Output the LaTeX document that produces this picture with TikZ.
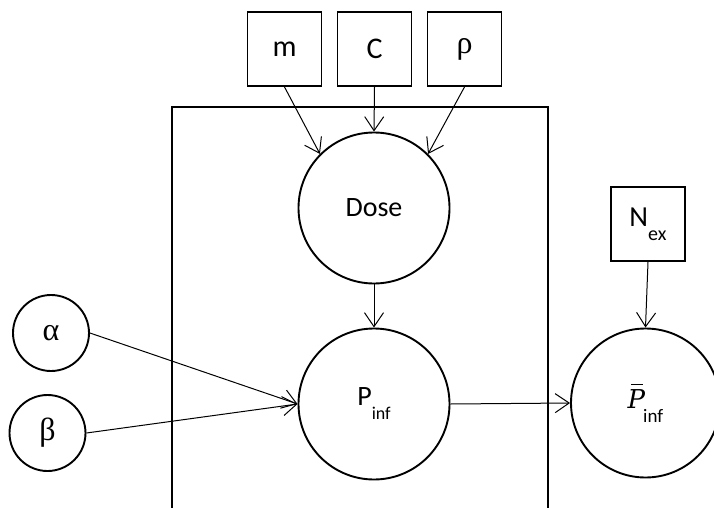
\documentclass[tikz,border=0pt]{standalone}
\usepackage{fontspec}
\setmainfont{Carlito}
\newfontfamily\grk{Liberation Serif}
\newfontfamily\pfont{DejaVu Serif}
\usetikzlibrary{arrows.meta}
\tikzset{
  box/.style={draw,line width=1.9pt,minimum width=74pt,minimum height=74pt,inner sep=0pt,font=\fontsize{30}{32}\selectfont},
  var/.style={draw,circle,line width=1.9pt,inner sep=0pt,font=\fontsize{28}{30}\selectfont},
  greek/.style={font=\grk\fontsize{32}{34}\selectfont},
  conn/.style={line width=1pt,-{Straight Barb[length=14pt,width=19pt,line width=1pt]}},
}
\newcommand{\sbs}[2]{\fontsize{#2}{#2}\selectfont\raisebox{-14pt}{#1}}
\newcommand{\pbarsym}{{\pfont\itshape\fontsize{26}{28}\selectfont P}\llap{\raisebox{23pt}{\rule{12pt}{1.3pt}}\hspace{2pt}}}
\begin{document}
\begin{tikzpicture}[x=1pt,y=-1pt]
\useasboundingbox (0,0) rectangle (714,508);
\begin{scope}
\clip (0,0) rectangle (714,508);
\draw[line width=1.9pt] (172,107) rectangle (548,530);
\node[var,minimum size=149pt] (pbar) at (645.5,403) {\pbarsym\hspace{-2pt}\sbs{inf}{19}};
\end{scope}
\node[box] (m) at (284.5,49) {m};
\node[box] (c) at (374.5,49) {C};
\node[box,greek] (rho) at (464.5,49) {ρ};
\node[box,font=\fontsize{29}{30}\selectfont] (nex) at (648,224) {N\sbs{ex}{20}};
\node[var,minimum size=151pt] (dose) at (374,208) {Dose};
\node[var,minimum size=151pt] (pinf) at (374,404) {P\sbs{inf}{18}};
\node[var,minimum size=76pt,greek] (alpha) at (51,333) {α};
\node[var,minimum size=76pt,greek] (beta) at (47.5,433) {β};
\draw[conn] (m.south) -- (dose.135);
\draw[conn] (c.south) -- (dose.north);
\draw[conn] (rho.south) -- (dose.45);
\draw[conn] (dose.south) -- (pinf.north);
\draw[conn] (alpha.east) -- (pinf.west);
\draw[conn] (beta.east) -- (pinf.west);
\draw[conn] (pinf.east) -- (pbar.west);
\draw[conn] (nex.south) -- (pbar.north);
\end{tikzpicture}
\end{document}
